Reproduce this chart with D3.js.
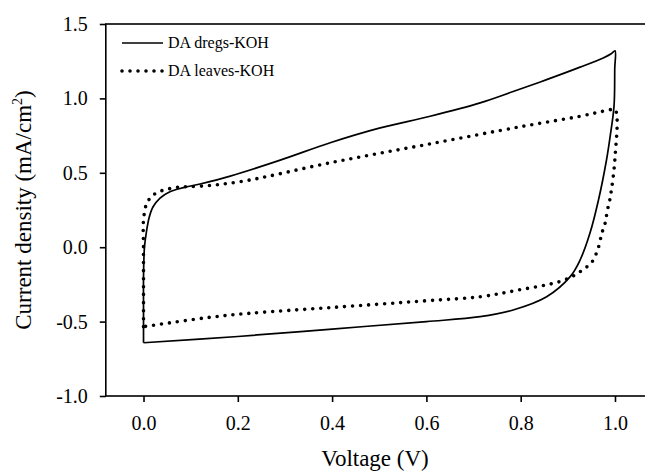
<!DOCTYPE html>
<html lang="en">
<head>
    <meta charset="UTF-8">
    <title>CV curves</title>
    <script src="https://d3js.org/d3.v7.min.js"></script>
    <style>
        body {
            margin: 0;
            padding: 0;
            background: #ffffff;
        }
        svg {
            display: block;
        }
        svg text {
            font-family: "Liberation Serif", "Times New Roman", Times, serif;
            fill: #000;
        }
        .tick-label {
            font-size: 20px;
        }
        .axis-title {
            font-size: 23px;
        }
        .legend-text {
            font-size: 16px;
        }
    </style>
</head>
<body>
    <svg width="645" height="472"></svg>

    <script>
        // DA dregs-KOH, solid loop [voltage, current density]
        const dregsKOH = [
            [0.000, -0.642], [0.000, -0.40], [0.000, -0.20], [0.002, 0.00], [0.006, 0.10],
            [0.012, 0.20], [0.020, 0.27], [0.035, 0.33], [0.056, 0.373], [0.085, 0.400],
            [0.120, 0.425], [0.184, 0.478], [0.290, 0.585], [0.396, 0.702], [0.500, 0.800],
            [0.608, 0.880], [0.714, 0.970], [0.784, 1.046], [0.855, 1.126], [0.926, 1.210],
            [0.975, 1.272], [0.992, 1.300], [1.000, 1.320], [0.9995, 1.200], [0.998, 0.950],
            [0.990, 0.750], [0.982, 0.586], [0.965, 0.317], [0.947, 0.095], [0.926, -0.086],
            [0.905, -0.198], [0.855, -0.333], [0.784, -0.422], [0.714, -0.467], [0.600, -0.500],
            [0.400, -0.550], [0.200, -0.600], [0.000, -0.642]
        ];

        // DA leaves-KOH, dotted loop
        const leavesKOH = [
            [0.000, -0.534], [0.000, -0.30], [0.000, 0.00], [0.000, 0.18], [0.007, 0.295],
            [0.021, 0.351], [0.039, 0.380], [0.074, 0.403], [0.120, 0.410], [0.205, 0.440],
            [0.400, 0.570], [0.600, 0.690], [0.800, 0.810], [0.926, 0.880], [0.985, 0.920],
            [1.000, 0.925], [1.000, 0.600], [0.989, 0.317], [0.984, 0.250], [0.979, 0.160],
            [0.972, 0.093], [0.965, 0.000], [0.951, -0.101], [0.933, -0.149], [0.915, -0.187],
            [0.882, -0.232], [0.795, -0.288], [0.714, -0.333], [0.600, -0.360], [0.400, -0.405],
            [0.226, -0.444], [0.141, -0.471], [0.035, -0.518], [0.000, -0.534]
        ];

        const seriesNames = ["DA dregs-KOH", "DA leaves-KOH"];
        const xTicks = [0.0, 0.2, 0.4, 0.6, 0.8, 1.0];
        const yTicks = [-1.0, -0.5, 0.0, 0.5, 1.0, 1.5];

        const svg = d3.select("svg");

        const xScale = d3.scaleLinear()
                         .domain([-0.08, 1.08])
                         .range([105.8, 652.7]);

        const yScale = d3.scaleLinear()
                         .domain([-1.0, 1.5])
                         .range([396, 24]);

        const fmt = d => d3.format(".1f")(d).replace("\u2212", "-");

        // frame (right side falls outside the picture)
        svg.append("rect")
            .attr("x", xScale(-0.08))
            .attr("y", yScale(1.5))
            .attr("width", xScale(1.08) - xScale(-0.08))
            .attr("height", yScale(-1.0) - yScale(1.5))
            .attr("fill", "none")
            .attr("stroke", "#000")
            .attr("stroke-width", 1.6);

        const xAxis = svg.append("g")
            .attr("transform", `translate(0,${yScale(-1.0)})`)
            .call(d3.axisBottom(xScale).tickValues(xTicks).tickFormat(fmt)
                    .tickSizeInner(6).tickSizeOuter(0).tickPadding(14));

        const yAxis = svg.append("g")
            .attr("transform", `translate(${xScale(-0.08)},0)`)
            .call(d3.axisLeft(yScale).tickValues(yTicks).tickFormat(fmt)
                    .tickSizeInner(6).tickSizeOuter(0).tickPadding(12));

        [xAxis, yAxis].forEach(function(g) {
            g.attr("font-family", null).attr("font-size", null);
            g.select(".domain").remove();
            g.selectAll(".tick line").attr("stroke", "#000").attr("stroke-width", 1.6);
            g.selectAll(".tick text").attr("class", "tick-label");
        });

        const line = d3.line()
            .x(d => xScale(d[0]))
            .y(d => yScale(d[1]))
            .curve(d3.curveCatmullRom.alpha(0.5));

        svg.append("path")
            .datum(dregsKOH)
            .attr("d", line)
            .attr("fill", "none")
            .attr("stroke", "#000")
            .attr("stroke-width", 1.7);

        svg.append("path")
            .datum(leavesKOH)
            .attr("d", line)
            .attr("fill", "none")
            .attr("stroke", "#000")
            .attr("stroke-width", 3.6)
            .attr("stroke-linecap", "round")
            .attr("stroke-dasharray", "0,8");

        // axis titles
        svg.append("text")
            .attr("class", "axis-title")
            .attr("x", 375)
            .attr("y", 466)
            .attr("text-anchor", "middle")
            .text("Voltage (V)");

        const yTitle = svg.append("text")
            .attr("class", "axis-title")
            .attr("text-anchor", "middle")
            .attr("transform", `translate(31,${yScale(0.25)}) rotate(-90)`);
        yTitle.append("tspan").text("Current density (mA/cm");
        yTitle.append("tspan").attr("dy", -9).style("font-size", "14px").text("2");
        yTitle.append("tspan").attr("dy", 9).text(")");

        // legend
        const legend = svg.append("g");
        seriesNames.forEach(function(name, i) {
            const ly = 43 + i * 28;
            legend.append("line")
                .attr("x1", 122).attr("x2", 163)
                .attr("y1", ly).attr("y2", ly)
                .attr("stroke", "#000")
                .attr("stroke-width", i === 0 ? 1.7 : 3.6)
                .attr("stroke-linecap", i === 0 ? "butt" : "round")
                .attr("stroke-dasharray", i === 0 ? null : "0,8");
            legend.append("text")
                .attr("class", "legend-text")
                .attr("x", 168)
                .attr("y", ly + 5)
                .text(name);
        });
    </script>
</body>
</html>
